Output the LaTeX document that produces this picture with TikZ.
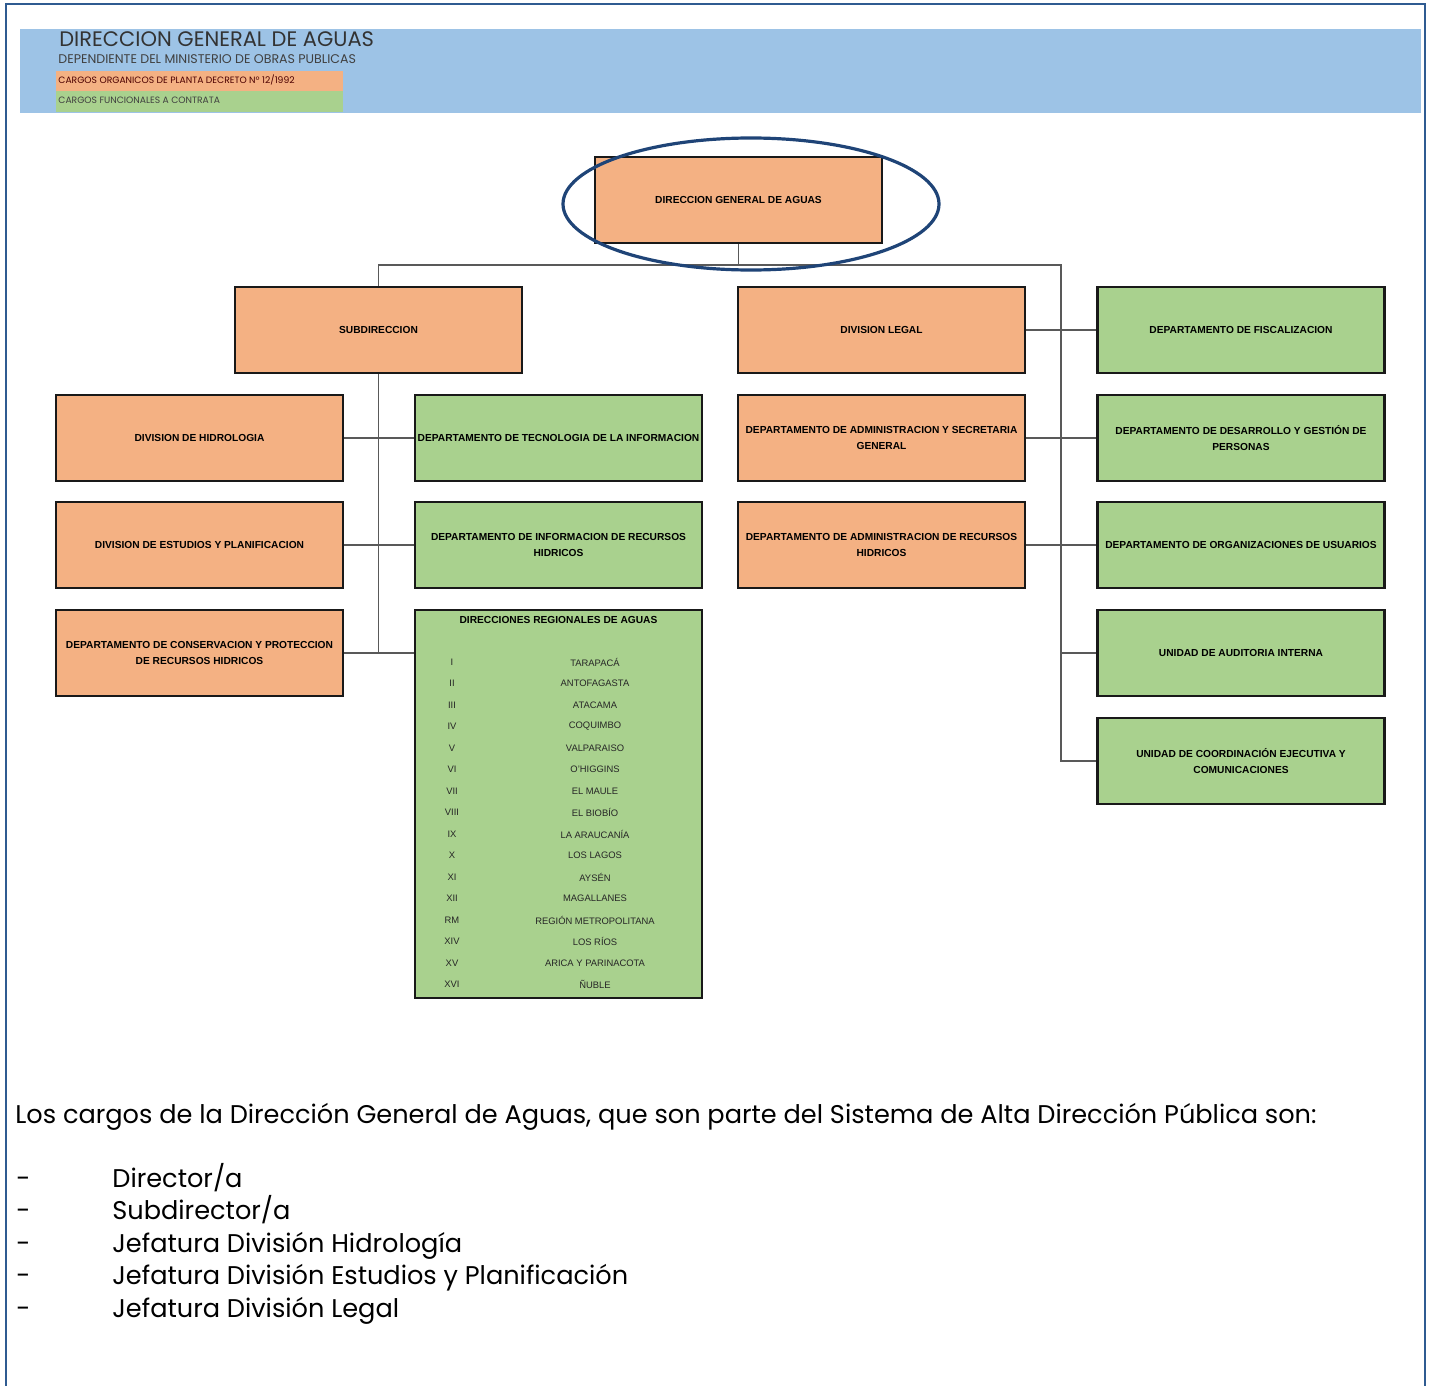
\documentclass[tikz,border=0pt]{standalone}
\usepackage{fontspec}
\setmainfont{Liberation Sans}
\newfontfamily\gotica{Poppins}

\definecolor{Naranja}{HTML}{F4B183}
\definecolor{Verde}{HTML}{A9D18E}
\definecolor{Celeste}{HTML}{9DC3E6}
\definecolor{Marco}{HTML}{2F5B91}
\definecolor{Elipse}{HTML}{1F4477}

\def\AnchoCaja{143.5pt}
\def\AltoCaja{43pt}

\tikzset{
  caja/.style={draw=black!90, line width=1.4pt, minimum width=\AnchoCaja,
    minimum height=\AltoCaja, align=center, inner sep=0pt,
    font=\bfseries\fontsize{5.1}{8}\selectfont},
  planta/.style={caja, fill=Naranja},
  contrata/.style={caja, fill=Verde},
  linea/.style={draw=black!65, line width=0.7pt},
  region/.style={font=\fontsize{4.7}{5}\selectfont, text=black!85, inner sep=0pt},
  parrafo/.style={anchor=base west, inner sep=0pt, font=\gotica\fontsize{12.8}{15}\selectfont},
}

\begin{document}
\begin{tikzpicture}[x=0.5pt,y=-0.5pt]
  \useasboundingbox (0,0) rectangle (1429,1386);

  % --- Marco ---
  \draw[Marco, line width=1.2pt] (6,1386) -- (6,4) -- (1425,4) -- (1425,1386);

  % --- Encabezado ---
  \fill[Celeste] (20,29) rectangle (1421,113);
  \fill[Naranja] (56,71) rectangle (343,91);
  \fill[Verde] (56,91) rectangle (343,112);
  \node[anchor=base west, inner sep=0pt, text=black!80,
    font=\gotica\fontsize{10.5}{12}\selectfont] (titulo) at (59,47) {DIRECCION GENERAL DE AGUAS};
  \node[anchor=base west, inner sep=0pt, text=black!75,
    font=\gotica\fontsize{6.3}{7}\selectfont] (depende) at (58,64) {DEPENDIENTE DEL MINISTERIO DE OBRAS PUBLICAS};
  \node[anchor=base west, inner sep=0pt, text=black!70!red,
    font=\gotica\fontsize{4.6}{5}\selectfont] (leyplanta) at (58,84) {CARGOS ORGANICOS DE PLANTA DECRETO Nº 12/1992};
  \node[anchor=base west, inner sep=0pt, text=black!75,
    font=\gotica\fontsize{4.6}{5}\selectfont] (leycontrata) at (58,104) {CARGOS FUNCIONALES A CONTRATA};

  % --- Cajas ---
  \node[planta] (dga) at (738.5,200) {DIRECCION GENERAL DE AGUAS};
  \node[planta] (sub) at (378.5,330) {SUBDIRECCION};
  \node[planta] (legal) at (881.5,330) {DIVISION LEGAL};

  \node[planta] (hidro) at (199.5,438) {DIVISION DE HIDROLOGIA};
  \node[planta] (estud) at (199.5,545) {DIVISION DE ESTUDIOS Y PLANIFICACION};
  \node[planta] (conserv) at (199.5,653) {DEPARTAMENTO DE CONSERVACION Y PROTECCION\\DE RECURSOS HIDRICOS};

  \node[contrata] (tecno) at (558.5,438) {DEPARTAMENTO DE TECNOLOGIA DE LA INFORMACION};
  \node[contrata] (info) at (558.5,545) {DEPARTAMENTO DE INFORMACION DE RECURSOS\\HIDRICOS};
  \node[contrata, minimum height=194pt] (regional) at (558.5,804) {};

  \node[planta] (admsec) at (881.5,438) {DEPARTAMENTO DE ADMINISTRACION Y SECRETARIA\\GENERAL};
  \node[planta] (admrec) at (881.5,545) {DEPARTAMENTO DE ADMINISTRACION DE RECURSOS\\HIDRICOS};

  \node[contrata] (fisca) at (1241,330) {DEPARTAMENTO DE FISCALIZACION};
  \node[contrata] (desarr) at (1241,438) {DEPARTAMENTO DE DESARROLLO Y GESTIÓN DE\\PERSONAS};
  \node[contrata] (orgusu) at (1241,545) {DEPARTAMENTO DE ORGANIZACIONES DE USUARIOS};
  \node[contrata] (audit) at (1241,653) {UNIDAD DE AUDITORIA INTERNA};
  \node[contrata] (coord) at (1241,761) {UNIDAD DE COORDINACIÓN EJECUTIVA Y\\COMUNICACIONES};

  % --- Direcciones regionales ---
  \node[caja, draw=none, minimum height=0pt] (regtit) at (558.5,620) {DIRECCIONES REGIONALES DE AGUAS};
  \foreach \n/\r [count=\i] in {%
    I/TARAPACÁ, II/ANTOFAGASTA, III/ATACAMA, IV/COQUIMBO,
    V/VALPARAISO, VI/O'HIGGINS, VII/EL MAULE, VIII/EL BIOBÍO,
    IX/LA ARAUCANÍA, X/LOS LAGOS, XI/AYSÉN, XII/MAGALLANES,
    RM/REGIÓN METROPOLITANA, XIV/LOS RÍOS, XV/ARICA Y PARINACOTA, XVI/ÑUBLE}
  {
    \node[region] (num\i) at (452,640.5+21.5*\i) {\n};
    \node[region] (reg\i) at (595,640.5+21.5*\i) {\r};
  }

  % --- Lineas ---
  \coordinate (bizq) at (378.5,265);
  \coordinate (bder) at (1061,265);
  \draw[linea] (dga.south) -- (dga.south |- bizq);
  \draw[linea] (sub.north) -- (bizq) -- (bder) -- (coord.west -| bder) -- (coord.west);
  \draw[linea] (sub.south) -- (sub.south |- conserv.east);
  \draw[linea] (hidro.east) -- (tecno.west);
  \draw[linea] (estud.east) -- (info.west);
  \draw[linea] (conserv.east) -- (conserv.east -| regional.west);
  \draw[linea] (legal.east) -- (fisca.west);
  \draw[linea] (admsec.east) -- (desarr.west);
  \draw[linea] (admrec.east) -- (orgusu.west);
  \draw[linea] (audit.west) -- (audit.west -| bder);

  % --- Elipse ---
  \draw[Elipse, line width=1.6pt] (751,204) ellipse [x radius=188, y radius=66];

  % --- Texto final ---
  \node[parrafo] (intro) at (15,1123) {Los cargos de la Dirección General de Aguas, que son parte del Sistema de Alta Dirección Pública son:};
  \foreach \t [count=\i] in {Director/a, Subdirector/a, Jefatura División Hidrología,
    Jefatura División Estudios y Planificación, Jefatura División Legal}
  {
    \node[parrafo] (guion\i) at (16,1154.5+32.5*\i) {-};
    \node[parrafo] (cargo\i) at (112,1154.5+32.5*\i) {\t};
  }
\end{tikzpicture}
\end{document}
